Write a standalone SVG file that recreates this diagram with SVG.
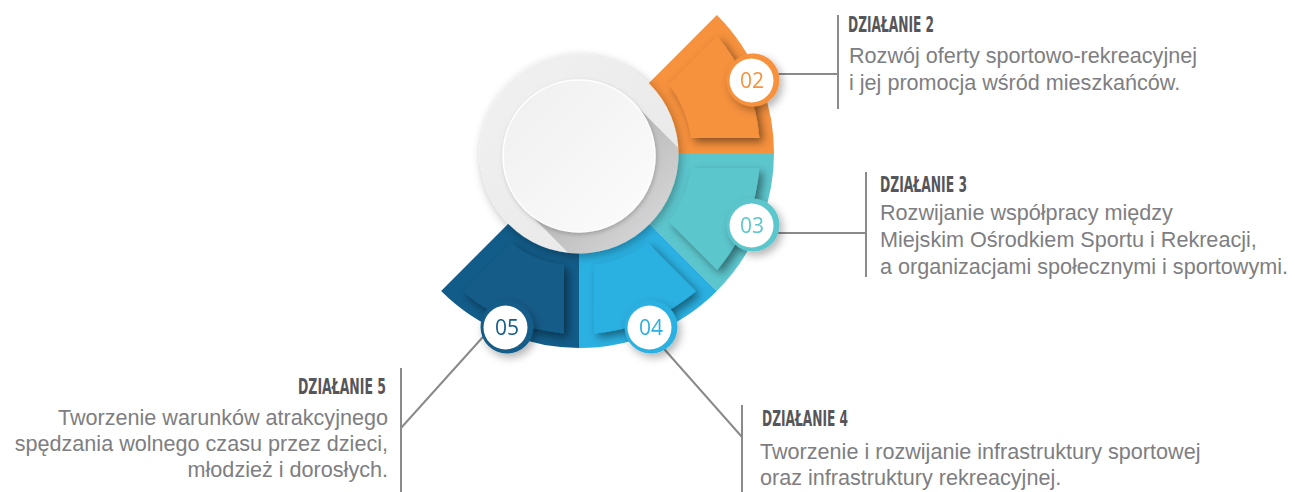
<svg xmlns="http://www.w3.org/2000/svg" width="1295" height="492" viewBox="0 0 1295 492">
<defs>
<style>
.h{font-family:"DejaVu Sans Condensed","DejaVu Sans",sans-serif;font-weight:bold;font-size:21px;fill:#56565a}
.b{font-family:"Liberation Sans",Arial,sans-serif;font-size:21.6px;fill:#7e7e82}
.n{font-family:"Open Sans","Noto Sans",sans-serif;font-size:21px;text-anchor:middle}
.ln{stroke:#8a8a8c;stroke-width:2;fill:none}
</style>
<filter id="ps" x="-30%" y="-30%" width="160%" height="160%"><feDropShadow dx="4" dy="4" stdDeviation="4" flood-color="#000" flood-opacity="0.45"/></filter>
<filter id="bs" x="-40%" y="-40%" width="180%" height="180%"><feDropShadow dx="3" dy="4" stdDeviation="4" flood-color="#000" flood-opacity="0.3"/></filter>
<filter id="rs" x="-20%" y="-20%" width="140%" height="140%"><feDropShadow dx="2" dy="3" stdDeviation="5" flood-color="#000" flood-opacity="0.3"/></filter>
<filter id="ds" x="-20%" y="-20%" width="140%" height="140%"><feDropShadow dx="1" dy="2" stdDeviation="2" flood-color="#000" flood-opacity="0.2"/></filter>
<clipPath id="c2"><path d="M579,153 L716.89,15.11 A195,195 0 0 1 774,153 Z"/></clipPath>
<clipPath id="c3"><path d="M579,153 L774,153 A195,195 0 0 1 716.89,290.89 Z"/></clipPath>
<clipPath id="c4"><path d="M579,153 L716.89,290.89 A195,195 0 0 1 579,348 Z"/></clipPath>
<clipPath id="c5"><path d="M579,153 L579,348 A195,195 0 0 1 441.11,290.89 Z"/></clipPath>
<clipPath id="ring"><circle cx="579" cy="154" r="99.5"/></clipPath>
<linearGradient id="lsg" gradientUnits="userSpaceOnUse" x1="579" y1="156" x2="655" y2="232">
<stop offset="0" stop-color="#000" stop-opacity="0.24"/>
<stop offset="1" stop-color="#000" stop-opacity="0.08"/>
</linearGradient>
<linearGradient id="dg" x1="0" y1="0" x2="1" y2="1">
<stop offset="0" stop-color="#efeff0"/>
<stop offset="1" stop-color="#fcfcfc"/>
</linearGradient>
<linearGradient id="rg" x1="0" y1="0" x2="1" y2="1">
<stop offset="0" stop-color="#f1f1f1"/>
<stop offset="1" stop-color="#e7e7e8"/>
</linearGradient>
</defs>
<rect width="1295" height="492" fill="#ffffff"/>

<g id="connectors">
<line class="ln" x1="838" y1="15" x2="838" y2="109"/>
<line class="ln" x1="760" y1="74" x2="838" y2="74"/>
<line class="ln" x1="866" y1="172" x2="866" y2="277"/>
<line class="ln" x1="760" y1="233" x2="866" y2="233"/>
<line class="ln" x1="742" y1="405" x2="742" y2="492"/>
<line class="ln" x1="650" y1="333" x2="742" y2="437"/>
<line class="ln" x1="401" y1="368" x2="401" y2="492"/>
<line class="ln" x1="500" y1="318" x2="401" y2="428"/>
</g>

<g id="seg2">
<path d="M579,153 L716.89,15.11 A195,195 0 0 1 774,153 Z" fill="#f6913d"/>
<g clip-path="url(#c2)"><path filter="url(#ps)" d="M717.14,36.06 A181,181 0 0 1 759.38,138.01 L691,138 A113,113 0 0 0 668.78,84.4 Z" fill="#f6913d"/></g>
</g>
<g id="seg3">
<path d="M579,153 L774,153 A195,195 0 0 1 716.89,290.89 Z" fill="#5cc6cd"/>
<g clip-path="url(#c3)"><path filter="url(#ps)" d="M759.38,167.99 A181,181 0 0 1 717.14,269.94 L668.78,221.6 A113,113 0 0 0 691,168 Z" fill="#5cc6cd"/></g>
</g>
<g id="seg4">
<path d="M579,153 L716.89,290.89 A195,195 0 0 1 579,348 Z" fill="#2ab0e1"/>
<g clip-path="url(#c4)"><path filter="url(#ps)" d="M695.94,291.14 A181,181 0 0 1 593.99,333.38 L594,265 A113,113 0 0 0 647.6,242.78 Z" fill="#2ab0e1"/></g>
</g>
<g id="seg5">
<path d="M579,153 L579,348 A195,195 0 0 1 441.11,290.89 Z" fill="#125c89"/>
<g clip-path="url(#c5)"><path filter="url(#ps)" d="M564.01,333.38 A181,181 0 0 1 462.06,291.14 L510.4,242.78 A113,113 0 0 0 564,265 Z" fill="#125c89"/></g>
</g>

<g id="center">
<circle cx="579" cy="154" r="99.5" fill="url(#rg)" filter="url(#rs)"/>
<g clip-path="url(#ring)">
<polygon points="632.74,102.26 782.74,252.26 675.26,359.74 525.26,209.74" fill="url(#lsg)"/>
</g>
<circle cx="579" cy="156" r="76" fill="url(#dg)" stroke="#ffffff" stroke-width="1.5" filter="url(#ds)"/>
</g>

<g id="badge2" filter="url(#bs)">
<circle cx="753" cy="80" r="26.5" fill="#f6913d"/>
<circle cx="751.5" cy="80.5" r="22" fill="#ffffff"/>
<text class="n" x="752" y="88" fill="#f6913d">02</text>
</g>
<g id="badge3" filter="url(#bs)">
<circle cx="753" cy="225" r="26.5" fill="#5cc6cd"/>
<circle cx="751.5" cy="225.5" r="22" fill="#ffffff"/>
<text class="n" x="752" y="233" fill="#5cc6cd">03</text>
</g>
<g id="badge4" filter="url(#bs)">
<circle cx="651" cy="327" r="26.5" fill="#2ab0e1"/>
<circle cx="649.5" cy="327.5" r="22" fill="#ffffff"/>
<text class="n" x="651" y="335" fill="#2ab0e1">04</text>
</g>
<g id="badge5" filter="url(#bs)">
<circle cx="507" cy="327" r="26.5" fill="#125c89"/>
<circle cx="505.5" cy="327.5" r="22" fill="#ffffff"/>
<text class="n" x="507" y="335" fill="#125c89">05</text>
</g>

<g id="label2">
<text class="h" x="848" y="32" textLength="86" lengthAdjust="spacingAndGlyphs">DZIAŁANIE 2</text>
<text class="b" x="849" y="63">Rozwój oferty sportowo-rekreacyjnej</text>
<text class="b" x="849" y="90">i jej promocja wśród mieszkańców.</text>
</g>
<g id="label3">
<text class="h" x="880" y="192" textLength="87" lengthAdjust="spacingAndGlyphs">DZIAŁANIE 3</text>
<text class="b" x="880" y="220">Rozwijanie współpracy między</text>
<text class="b" x="880" y="247">Miejskim Ośrodkiem Sportu i Rekreacji,</text>
<text class="b" x="880" y="274">a organizacjami społecznymi i sportowymi.</text>
</g>
<g id="label4">
<text class="h" x="762" y="426" textLength="86" lengthAdjust="spacingAndGlyphs">DZIAŁANIE 4</text>
<text class="b" x="760" y="459">Tworzenie i rozwijanie infrastruktury sportowej</text>
<text class="b" x="760" y="485">oraz infrastruktury rekreacyjnej.</text>
</g>
<g id="label5">
<text class="h" x="386" y="394" text-anchor="end" textLength="88" lengthAdjust="spacingAndGlyphs">DZIAŁANIE 5</text>
<text class="b" x="388" y="425" text-anchor="end">Tworzenie warunków atrakcyjnego</text>
<text class="b" x="388" y="451" text-anchor="end">spędzania wolnego czasu przez dzieci,</text>
<text class="b" x="388" y="477" text-anchor="end">młodzież i dorosłych.</text>
</g>
</svg>
